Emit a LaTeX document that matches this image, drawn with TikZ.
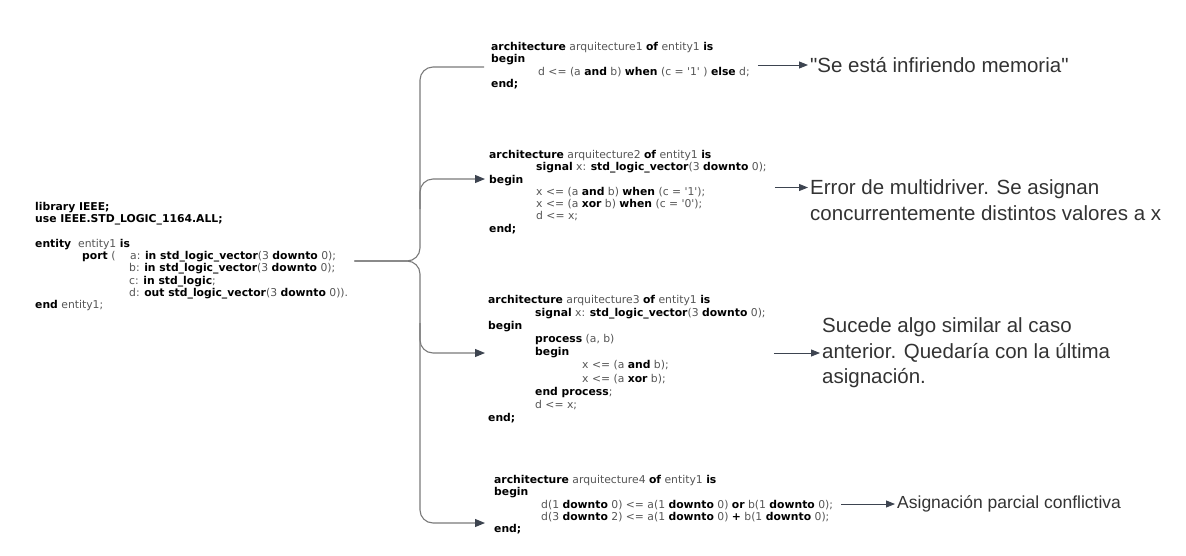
\documentclass[tikz,border=0pt]{standalone}
\usepackage{fontspec}
\setmainfont{DejaVu Sans}
\newfontfamily\labfont{Liberation Sans}
\usetikzlibrary{arrows.meta}
\definecolor{codegray}{HTML}{555555}
\definecolor{conngray}{HTML}{7A7A7A}
\definecolor{arrowdark}{HTML}{3D4450}
\definecolor{labtext}{HTML}{333333}
\newcommand{\kw}[1]{\textbf{\color{black}#1}}
\newcommand{\ind}{\hspace*{47pt}}
\newcommand{\q}{\textquotesingle}
\tikzset{
	code/.style={anchor=north west, inner sep=0pt, align=left, text=codegray,
		font=\fontsize{10.8}{12.3}\selectfont},
	lab/.style={anchor=west, inner sep=2pt, align=left, text=labtext,
		font=\labfont\fontsize{20.5}{25.5}\selectfont},
	conn/.style={draw=conngray, line width=1.1pt, rounded corners=13pt},
	tip/.style={-{Triangle[length=10pt,width=8pt,color=arrowdark]}},
	note/.style={draw=arrowdark, line width=0.9pt, shorten <=8pt,
		-{Triangle[length=9pt,width=7pt]}}
}
\begin{document}
\begin{tikzpicture}[x=1pt,y=-1pt]
		\useasboundingbox (0,0) rectangle (1186,555);
		% entity
		\node[code] (ent) at (35,202) {\kw{library IEEE;}\\
			\kw{use IEEE.STD\_LOGIC\_1164.ALL;}\\
			\mbox{}\\
			\kw{entity}\ \ entity1 \kw{is}\\
			\ind\makebox[48pt][l]{\kw{port} (}a: \kw{in std\_logic\_vector}(3 \kw{downto} 0);\\
			\ind\ind b: \kw{in std\_logic\_vector}(3 \kw{downto} 0);\\
			\ind\ind c: \kw{in std\_logic};\\
			\ind\ind d: \kw{out std\_logic\_vector}(3 \kw{downto} 0)).\\
			\kw{end} entity1;};
		% architectures
		\node[code] (a1) at (491,42) {\kw{architecture} arquitecture1 \kw{of} entity1 \kw{is}\\
			\kw{begin}\\
			\ind d <= (a \kw{and} b) \kw{when} (c = \q1\q\ ) \kw{else} d;\\
			\kw{end;}};
		\node[code] (a2) at (489,150) {\kw{architecture} arquitecture2 \kw{of} entity1 \kw{is}\\
			\ind\kw{signal} x: \kw{std\_logic\_vector}(3 \kw{downto} 0);\\
			\kw{begin}\\
			\ind x <= (a \kw{and} b) \kw{when} (c = \q1\q);\\
			\ind x <= (a \kw{xor} b) \kw{when} (c = \q0\q);\\
			\ind d <= x;\\
			\kw{end;}};
		\node[code, font=\fontsize{10.8}{13.1}\selectfont] (a3) at (488,295) {\kw{architecture} arquitecture3 \kw{of} entity1 \kw{is}\\
			\ind\kw{signal} x: \kw{std\_logic\_vector}(3 \kw{downto} 0);\\
			\kw{begin}\\
			\ind\kw{process} (a, b)\\
			\ind\kw{begin}\\
			\ind\ind x <= (a \kw{and} b);\\
			\ind\ind x <= (a \kw{xor} b);\\
			\ind\kw{end process};\\
			\ind d <= x;\\
			\kw{end;}};
		\node[code] (a4) at (494,475) {\kw{architecture} arquitecture4 \kw{of} entity1 \kw{is}\\
			\kw{begin}\\
			\ind d(1 \kw{downto} 0) <= a(1 \kw{downto} 0) \kw{or} b(1 \kw{downto} 0);\\
			\ind d(3 \kw{downto} 2) <= a(1 \kw{downto} 0) \kw{+} b(1 \kw{downto} 0);\\
			\kw{end;}};
		% comments
		\node[lab] (lab1) at (808,65) {"Se está infiriendo memoria"};
		\node[lab] (lab2) at (808,200) {Error de multidriver. Se asignan\\concurrentemente distintos valores a x};
		\node[lab] (lab3) at (820,353) {Sucede algo similar al caso\\anterior. Quedaría con la última\\asignación.};
		\node[lab, font=\labfont\fontsize{17.5}{21}\selectfont] (lab4) at (895,504) {Asignación parcial conflictiva};
		\coordinate (e2) at ([yshift=12.5pt]lab2.west);
		% brace
		\coordinate (br) at (420,261);
		\coordinate (b1) at (484,67);
		\coordinate (b2) at (485,179);
		\coordinate (b3) at (485,353);
		\coordinate (b4) at (485,523);
		\draw[conn, shorten <=6pt] (ent.east |- br) -| (b1 -| br) -- (b1);
		\draw[conn, tip, shorten <=6pt] (ent.east |- br) -| (b4 -| br) -- (b4);
		\draw[conn, tip] ([yshift=-30pt]b2 -| br) |- (b2);
		\draw[conn, tip] ([yshift=30pt]b3 -| br) |- (b3);
		% notes
		\draw[note] (a1.east |- lab1.west) -- (lab1.west);
		\draw[note] (a2.east |- e2) -- (e2);
		\draw[note] (a3.east |- lab3.west) -- (lab3.west);
		\draw[note] (a4.east |- lab4.west) -- (lab4.west);
	\end{tikzpicture}
\end{document}
